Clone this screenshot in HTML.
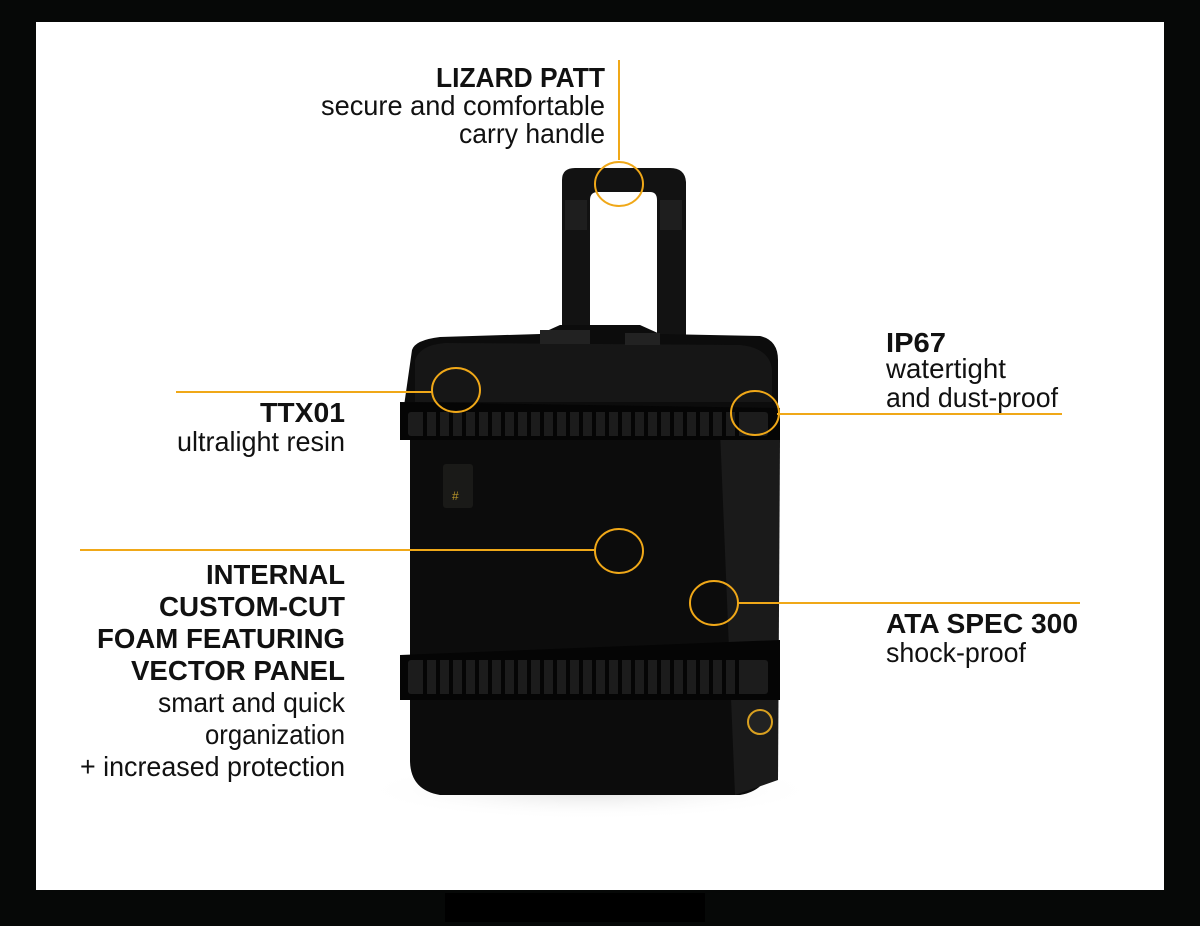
<!DOCTYPE html>
<html><head><meta charset="utf-8"><style>
html,body{margin:0;padding:0;background:#060807;}
svg{display:block;}
text{font-family:"Liberation Sans Narrow","Liberation Sans",sans-serif;fill:#111;font-size:28px;}
.b{font-weight:bold;}
</style></head><body>
<svg width="1200" height="926" viewBox="0 0 1200 926" xmlns="http://www.w3.org/2000/svg">
<rect x="0" y="0" width="1200" height="926" fill="#060807"/>
<rect x="36" y="22" width="1128" height="868" fill="#ffffff"/>
<rect x="445" y="893" width="260" height="29" fill="#000"/>
<defs>
<radialGradient id="sh" cx="0.5" cy="0.5" r="0.5"><stop offset="0" stop-color="#ccc" stop-opacity="0.6"/><stop offset="1" stop-color="#fff" stop-opacity="0"/></radialGradient>
</defs>
<ellipse cx="590" cy="790" rx="230" ry="30" fill="url(#sh)"/>
<!-- handle -->
<path d="M562 340 L562 180 Q562 168 575 168 L670 168 Q685 168 686 182 L686 340 L657 340 L657 200 Q657 192 650 192 L598 192 Q590 192 590 200 L590 340 Z" fill="#121212"/>
<rect x="565" y="200" width="22" height="30" fill="#1e1e1e"/>
<rect x="660" y="200" width="22" height="30" fill="#1e1e1e"/>
<!-- case body -->
<path d="M412 350 Q415 340 440 337 L540 334 L560 325 L640 325 L660 334 L760 336 Q778 340 778 360 L778 420 L770 440 L770 760 Q770 790 740 795 L440 795 Q410 790 410 760 L410 440 L402 420 Z" fill="#0c0c0c"/>
<path d="M720 430 L780 440 L778 780 L735 795 Z" fill="#1a1a1a"/>
<path d="M415 360 Q420 345 445 343 L740 345 Q770 348 772 370 L772 402 L415 402 Z" fill="#161616"/>
<!-- bands -->
<path d="M400 402 L780 408 L780 440 L400 440 Z" fill="#050505"/>
<g fill="#1c1c1c">
<rect x="408" y="412" width="360" height="24" rx="3"/>
</g>
<g stroke="#050505" stroke-width="4">
<path d="M425 412V436M438 412V436M451 412V436M464 412V436M477 412V436M490 412V436M503 412V436M516 412V436M529 412V436M542 412V436M555 412V436M568 412V436M581 412V436M594 412V436M607 412V436M620 412V436M633 412V436M646 412V436M659 412V436M672 412V436M685 412V436M698 412V436M711 412V436M724 412V436M737 412V436"/>
</g>
<path d="M400 655 L780 640 L780 700 L400 700 Z" fill="#050505"/>
<rect x="408" y="660" width="360" height="34" rx="3" fill="#1c1c1c"/>
<g stroke="#050505" stroke-width="4">
<path d="M425 660V694M438 660V694M451 660V694M464 660V694M477 660V694M490 660V694M503 660V694M516 660V694M529 660V694M542 660V694M555 660V694M568 660V694M581 660V694M594 660V694M607 660V694M620 660V694M633 660V694M646 660V694M659 660V694M672 660V694M685 660V694M698 660V694M711 660V694M724 660V694M737 660V694"/>
</g>
<!-- label -->
<rect x="443" y="464" width="30" height="44" rx="3" fill="#1a1a18"/>
<text x="452" y="500" style="font-size:12px;fill:#b8952a">#</text>
<!-- wheel -->
<circle cx="760" cy="722" r="12" fill="#222" stroke="#d9a020" stroke-width="2"/>
<!-- latches -->
<rect x="540" y="330" width="50" height="14" fill="#222"/>
<rect x="625" y="333" width="35" height="12" fill="#222"/>
<!-- callouts -->
<g stroke="#f0a818" stroke-width="2" fill="none">
<line x1="619" y1="60" x2="619" y2="160"/>
<ellipse cx="619" cy="184" rx="24" ry="22"/>
<line x1="176" y1="392" x2="432" y2="392"/>
<ellipse cx="456" cy="390" rx="24" ry="22"/>
<line x1="777" y1="414" x2="1062" y2="414"/>
<ellipse cx="755" cy="413" rx="24" ry="22"/>
<line x1="80" y1="550" x2="595" y2="550"/>
<ellipse cx="619" cy="551" rx="24" ry="22"/>
<line x1="738" y1="603" x2="1080" y2="603"/>
<ellipse cx="714" cy="603" rx="24" ry="22"/>
</g>
<!-- texts -->
<g text-anchor="end">
<text class="b" x="605" y="87" textLength="169" lengthAdjust="spacingAndGlyphs">LIZARD PATT</text>
<text x="605" y="115" textLength="284" lengthAdjust="spacingAndGlyphs">secure and comfortable</text>
<text x="605" y="143" textLength="146" lengthAdjust="spacingAndGlyphs">carry handle</text>
<text class="b" x="345" y="422" textLength="85" lengthAdjust="spacingAndGlyphs">TTX01</text>
<text x="345" y="451" textLength="168" lengthAdjust="spacingAndGlyphs">ultralight resin</text>
<text class="b" x="345" y="584" textLength="139" lengthAdjust="spacingAndGlyphs">INTERNAL</text>
<text class="b" x="345" y="616" textLength="186" lengthAdjust="spacingAndGlyphs">CUSTOM-CUT</text>
<text class="b" x="345" y="648" textLength="248" lengthAdjust="spacingAndGlyphs">FOAM FEATURING</text>
<text class="b" x="345" y="680" textLength="214" lengthAdjust="spacingAndGlyphs">VECTOR PANEL</text>
<text x="345" y="712" textLength="187" lengthAdjust="spacingAndGlyphs">smart and quick</text>
<text x="345" y="744" textLength="140" lengthAdjust="spacingAndGlyphs">organization</text>
<text x="345" y="776" textLength="265" lengthAdjust="spacingAndGlyphs">+ increased protection</text>
</g>
<text class="b" x="886" y="352" textLength="60" lengthAdjust="spacingAndGlyphs">IP67</text>
<text x="886" y="378" textLength="120" lengthAdjust="spacingAndGlyphs">watertight</text>
<text x="886" y="407" textLength="172" lengthAdjust="spacingAndGlyphs">and dust-proof</text>
<text class="b" x="886" y="633" textLength="192" lengthAdjust="spacingAndGlyphs">ATA SPEC 300</text>
<text x="886" y="662" textLength="140" lengthAdjust="spacingAndGlyphs">shock-proof</text>
</svg>
</body></html>
